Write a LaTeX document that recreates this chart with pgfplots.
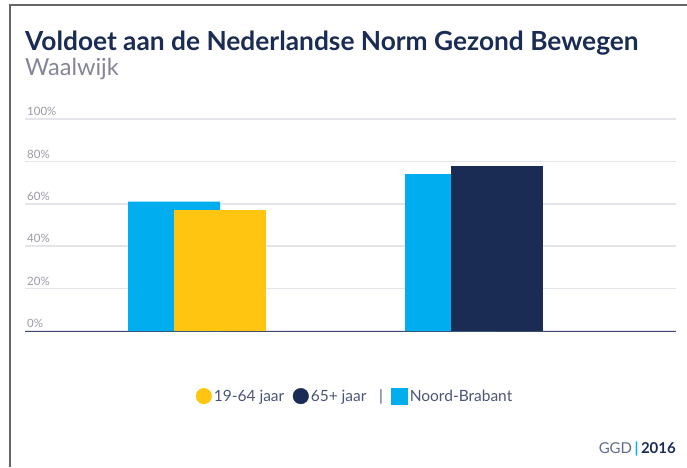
\documentclass[border=0pt]{standalone}
\usepackage{pgfplots}
\pgfplotsset{compat=1.18}
\usepackage{fontspec}
\setmainfont{Lato}
\definecolor{nbblue}{HTML}{00ADEF}
\definecolor{ggdyellow}{HTML}{FFC511}
\definecolor{ggdnavy}{HTML}{1B2C54}
\definecolor{gridgray}{HTML}{E4E4EA}
\definecolor{ticktxt}{HTML}{9A9AA6}
\definecolor{subgray}{HTML}{85859A}
\begin{document}
\begin{tikzpicture}[x=1pt,y=1pt]
\path[use as bounding box] (0pt,0pt) rectangle (687pt,-467pt);
% frame
\draw[line width=2pt, gray!80!black] (687pt,-5pt) -- (10pt,-5pt) -- (10pt,-467pt);
% titles
\node[anchor=base west, inner sep=0pt, text=ggdnavy, font=\fontsize{26.3}{30}\selectfont\bfseries] at (25pt,-50pt) {Voldoet aan de Nederlandse Norm Gezond Bewegen};
\node[anchor=base west, inner sep=0pt, text=subgray, font=\fontsize{23.5}{27}\selectfont] at (25pt,-75pt) {Waalwijk};
\begin{axis}[
    at={(25pt,-331pt)}, anchor=south west,
    scale only axis,
    width=651pt, height=212pt,
    xmin=-0.704, xmax=1.646,
    ymin=0, ymax=100,
    ybar, bar width=92pt,
    axis x line*=bottom,
    axis y line*=left,
    x axis line style={draw=ggdnavy!85, line width=1pt, -},
    y axis line style={draw=none},
    xtick=\empty,
    ytick={0,20,40,60,80,100},
    yticklabels={0\%,20\%,40\%,60\%,80\%,100\%},
    major tick length=0pt,
    ymajorgrids,
    grid style={draw=gridgray, line width=1.5pt},
    yticklabel style={anchor=south west, inner sep=0pt, xshift=2pt, yshift=3pt, text=ticktxt, font=\fontsize{11.5}{13}\selectfont},
    yticklabel shift=0pt,
    clip=false,
    legend style={at={(0.507,-0.307)}, anchor=center, draw=none, fill=none,
        legend columns=-1, font=\fontsize{15.5}{18}\selectfont, text=ggdnavy!80,
        /tikz/every even column/.append style={column sep=6.5pt}},
]
\addlegendimage{legend image code/.code={\fill[ggdyellow] (6pt,0) circle (7.8pt);}}
\addlegendentry{19-64 jaar}
\addlegendimage{legend image code/.code={\fill[ggdnavy] (6pt,0) circle (7.8pt);}}
\addlegendentry{65+ jaar}
\addlegendimage{empty legend}
\addlegendentry{\hspace*{2pt}|}
\addlegendimage{legend image code/.code={\fill[nbblue] (-2pt,-8pt) rectangle (14pt,8pt);}}
\addlegendentry{Noord-Brabant}
% Noord-Brabant reference bars (behind)
\addplot[forget plot, fill=nbblue, draw=none, bar shift=-46pt] coordinates {(0,61) (1,74)};
% Waalwijk 19-64 jaar
\addplot[forget plot, fill=ggdyellow, draw=none, bar shift=0pt] coordinates {(0,57)};
% Waalwijk 65+ jaar
\addplot[forget plot, fill=ggdnavy, draw=none, bar shift=0pt] coordinates {(1,78)};
\end{axis}
\node[anchor=base east, inner sep=0pt, font=\fontsize{15}{17}\selectfont] at (676pt,-453pt)
    {\textcolor{ggdnavy!70}{GGD}\,\textcolor{nbblue}{\bfseries|}\,\textcolor{ggdnavy}{\bfseries 2016}};
\end{tikzpicture}
\end{document}
